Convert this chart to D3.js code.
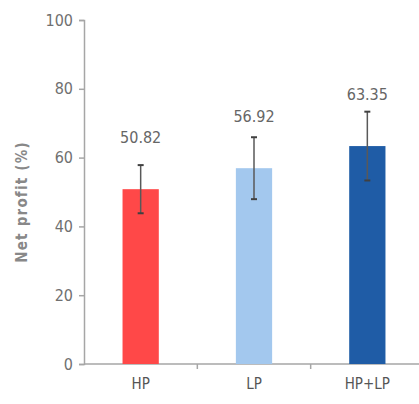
<!DOCTYPE html>
<html>
<head>
<meta charset="utf-8">
<script src="https://cdn.jsdelivr.net/npm/d3@7"></script>
<style>
  body { margin: 0; background: #fff; }
  text { font-family: "DejaVu Sans Condensed", "DejaVu Sans", sans-serif; font-stretch: condensed; }
</style>
</head>
<body>
<div id="chart"></div>
<script>
var categories = ["HP", "LP", "HP+LP"];
var means = [50.82, 56.92, 63.35];
var errors = [7, 9, 10];
var colors = ["#FF4848", "#A3C8EE", "#1F5CA6"];
var yTicks = [0, 20, 40, 60, 80, 100];

var width = 419, height = 404;
var margin = {top: 20, right: 0, bottom: 40, left: 84};

var svg = d3.select("#chart").append("svg")
  .attr("width", width)
  .attr("height", height);

var x = d3.scaleBand()
  .domain(categories)
  .range([margin.left, 424])
  .padding(0);

var y = d3.scaleLinear()
  .domain([0, 100])
  .range([364, margin.top]);

var barW = x.bandwidth() * 0.32;

// y axis
var yAxis = svg.append("g")
  .attr("transform", "translate(" + margin.left + ",0)")
  .call(d3.axisLeft(y).tickValues(yTicks).tickSize(5).tickPadding(6));
yAxis.select(".domain").attr("stroke", "#a6a6a6").attr("stroke-width", 1.5);
yAxis.selectAll(".tick line").attr("stroke", "#a6a6a6").attr("stroke-width", 1.5);
yAxis.selectAll(".tick text")
  .attr("fill", "#707070")
  .style("font-size", "16px");

// x axis line with ticks at band boundaries
var xAxis = svg.append("g");
xAxis.append("line")
  .attr("x1", margin.left).attr("x2", width)
  .attr("y1", y(0)).attr("y2", y(0))
  .attr("stroke", "#a6a6a6").attr("stroke-width", 1.5);
xAxis.selectAll(".sep")
  .data(categories.slice(1))
  .enter().append("line")
  .attr("x1", function(d) { return x(d); })
  .attr("x2", function(d) { return x(d); })
  .attr("y1", y(0)).attr("y2", y(0) + 5)
  .attr("stroke", "#a6a6a6").attr("stroke-width", 1.5);
xAxis.selectAll(".cat")
  .data(categories)
  .enter().append("text")
  .attr("x", function(d) { return x(d) + x.bandwidth() / 2; })
  .attr("y", 389)
  .attr("text-anchor", "middle")
  .attr("fill", "#555")
  .style("font-size", "15px")
  .text(function(d) { return d; });

// bars
svg.selectAll(".bar")
  .data(means)
  .enter().append("rect")
  .attr("x", function(d, i) { return x(categories[i]) + (x.bandwidth() - barW) / 2; })
  .attr("y", function(d) { return y(d); })
  .attr("width", barW)
  .attr("height", function(d) { return y(0) - y(d); })
  .attr("fill", function(d, i) { return colors[i]; });

// error bars
var eb = svg.selectAll(".err")
  .data(means)
  .enter().append("g")
  .attr("transform", function(d, i) { return "translate(" + (x(categories[i]) + x.bandwidth() / 2) + ",0)"; });
eb.append("line")
  .attr("y1", function(d, i) { return y(d + errors[i]); })
  .attr("y2", function(d, i) { return y(d - errors[i]); })
  .attr("stroke", "#595959").attr("stroke-width", 1.5);
eb.append("line")
  .attr("x1", -3).attr("x2", 3)
  .attr("y1", function(d, i) { return y(d + errors[i]); })
  .attr("y2", function(d, i) { return y(d + errors[i]); })
  .attr("stroke", "#404040").attr("stroke-width", 2);
eb.append("line")
  .attr("x1", -3).attr("x2", 3)
  .attr("y1", function(d, i) { return y(d - errors[i]); })
  .attr("y2", function(d, i) { return y(d - errors[i]); })
  .attr("stroke", "#404040").attr("stroke-width", 2);

// value labels
svg.selectAll(".val")
  .data(means)
  .enter().append("text")
  .attr("x", function(d, i) { return x(categories[i]) + x.bandwidth() / 2; })
  .attr("y", function(d) { return y(d) - 46; })
  .attr("text-anchor", "middle")
  .attr("fill", "#666")
  .style("font-size", "16px")
  .text(function(d) { return d.toFixed(2); });

// y axis title
svg.append("text")
  .attr("transform", "translate(27,202) rotate(-90)")
  .attr("text-anchor", "middle")
  .attr("fill", "#888")
  .style("font-size", "15px")
  .style("font-weight", "bold")
  .style("letter-spacing", "1.2px")
  .text("Net profit (%)");
</script>
</body>
</html>
